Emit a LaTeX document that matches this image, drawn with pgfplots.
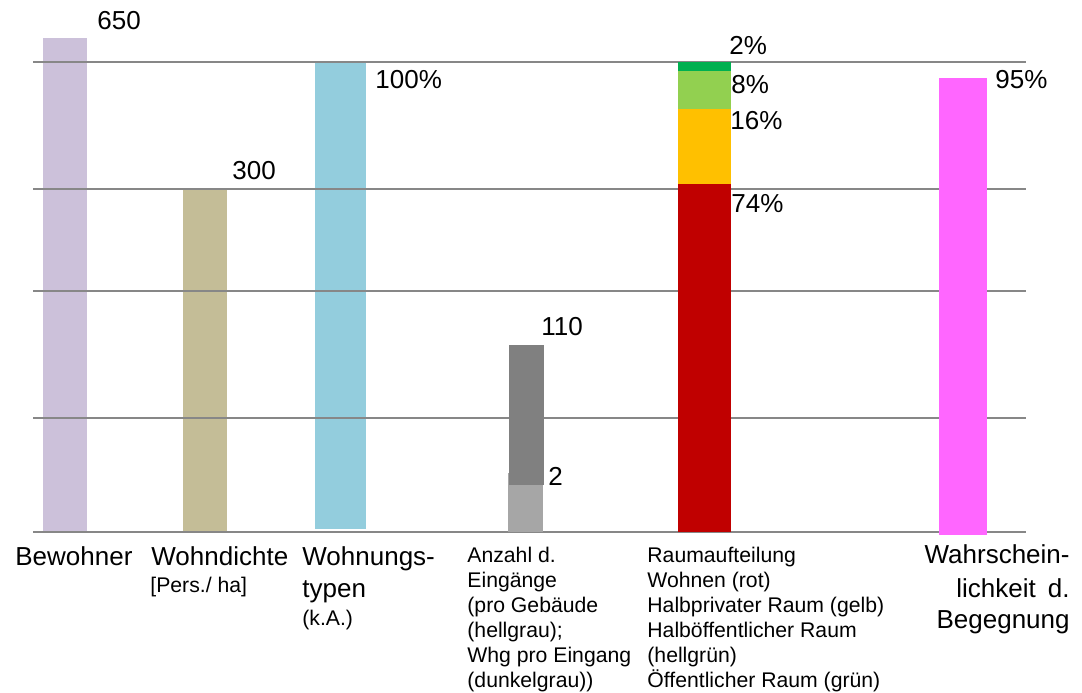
\documentclass[border=0pt]{standalone}
\usepackage{fontspec}
\setmainfont{Liberation Sans}
\usepackage{pgfplots}
\pgfplotsset{compat=1.18}
\definecolor{cLav}{HTML}{CCC1DA}
\definecolor{cKhaki}{HTML}{C4BD97}
\definecolor{cBlue}{HTML}{93CDDD}
\definecolor{cDGray}{HTML}{808080}
\definecolor{cLGray}{HTML}{A6A6A6}
\definecolor{cRed}{HTML}{C00000}
\definecolor{cYellow}{HTML}{FFC000}
\definecolor{cLGreen}{HTML}{92D050}
\definecolor{cGreen}{HTML}{00B050}
\definecolor{cPink}{HTML}{FF66FF}
\definecolor{cGrid}{HTML}{878787}
\newcommand{\bigfnt}{\fontsize{13}{15.6}\selectfont}
\newcommand{\smallfnt}{\fontsize{10.6}{12.5}\selectfont}
\begin{document}
\begin{tikzpicture}
\begin{axis}[
  x=0.5pt, y=0.5pt,
  xmin=0, xmax=1082, ymin=-160, ymax=532,
  hide axis, clip=false,
]
\path (rel axis cs:0,0) rectangle (rel axis cs:1,1);
% bars behind grid
\addplot[fill=cLav, draw=none] coordinates {(43,0) (43,494) (87,494) (87,0)} -- cycle;
\addplot[fill=cKhaki, draw=none] coordinates {(183,0) (183,344) (227,344) (227,0)} -- cycle;
\addplot[fill=cBlue, draw=none] coordinates {(315,3) (315,470) (366,470) (366,3)} -- cycle;
% grid lines
\addplot[cGrid, line width=1pt] coordinates {(33,470) (1026,470)};
\addplot[cGrid, line width=1pt] coordinates {(33,343) (1026,343)};
\addplot[cGrid, line width=1pt] coordinates {(33,241) (1026,241)};
\addplot[cGrid, line width=1pt] coordinates {(33,114) (1026,114)};
\addplot[cGrid, line width=1pt] coordinates {(33,0) (1026,0)};
% grey bars
\addplot[fill=cLGray, draw=none] coordinates {(508,0) (508,47) (543,47) (543,0)} -- cycle;
\addplot[fill=cLGray, draw=none] coordinates {(508,47) (508,59) (510,59) (510,47)} -- cycle;
\addplot[fill=cDGray, draw=none] coordinates {(509,47) (509,187) (544,187) (544,47)} -- cycle;
% stacked Raumaufteilung
\addplot[fill=cRed, draw=none] coordinates {(678,0) (678,348) (731,348) (731,0)} -- cycle;
\addplot[fill=cYellow, draw=none] coordinates {(678,348) (678,423) (731,423) (731,348)} -- cycle;
\addplot[fill=cLGreen, draw=none] coordinates {(678,423) (678,461) (731,461) (731,423)} -- cycle;
\addplot[fill=cGreen, draw=none] coordinates {(678,461) (678,470) (731,470) (731,461)} -- cycle;
% pink
\addplot[fill=cPink, draw=none] coordinates {(939,-3) (939,454) (987,454) (987,-3)} -- cycle;

% value labels
\begin{scope}[every node/.style={anchor=base west, inner sep=0pt, font=\bigfnt}]
\node at (axis cs:97,502.5) {650};
\node at (axis cs:232,352) {300};
\node at (axis cs:375,443) {100\%};
\node at (axis cs:729,477) {2\%};
\node at (axis cs:731,438) {8\%};
\node at (axis cs:730,402) {16\%};
\node at (axis cs:731,319) {74\%};
\node at (axis cs:995,443) {95\%};
\node at (axis cs:541,197) {110};
\node at (axis cs:548,47) {2};
% category labels
\node at (axis cs:15,-33) {Bewohner};
\node at (axis cs:151,-33) {Wohndichte};
\node at (axis cs:302,-33) {Wohnungs-};
\node at (axis cs:302,-65) {typen};
\end{scope}
\begin{scope}[every node/.style={anchor=base east, inner sep=0pt, font=\bigfnt}]
\node at (axis cs:1070,-31) {Wahrschein-};
\node at (axis cs:1070,-65) {lichkeit\hspace{6pt}d.};
\node at (axis cs:1070,-96) {Begegnung};
\end{scope}
\begin{scope}[every node/.style={anchor=base west, inner sep=0pt, font=\smallfnt}]
\node at (axis cs:150,-60) {[Pers./ ha]};
\node at (axis cs:302,-93) {(k.A.)};
\node at (axis cs:467,-30) {Anzahl d.};
\node at (axis cs:467,-55) {Eingänge};
\node at (axis cs:467,-80) {(pro Gebäude};
\node at (axis cs:467,-105) {(hellgrau);};
\node at (axis cs:467,-130) {Whg pro Eingang};
\node at (axis cs:467,-155) {(dunkelgrau))};
\node at (axis cs:647,-30) {Raumaufteilung};
\node at (axis cs:647,-55) {Wohnen (rot)};
\node at (axis cs:647,-80) {Halbprivater Raum (gelb)};
\node at (axis cs:647,-105) {Halböffentlicher Raum};
\node at (axis cs:647,-130) {(hellgrün)};
\node at (axis cs:647,-155) {Öffentlicher Raum (grün)};
\end{scope}
\end{axis}
\end{tikzpicture}
\end{document}
